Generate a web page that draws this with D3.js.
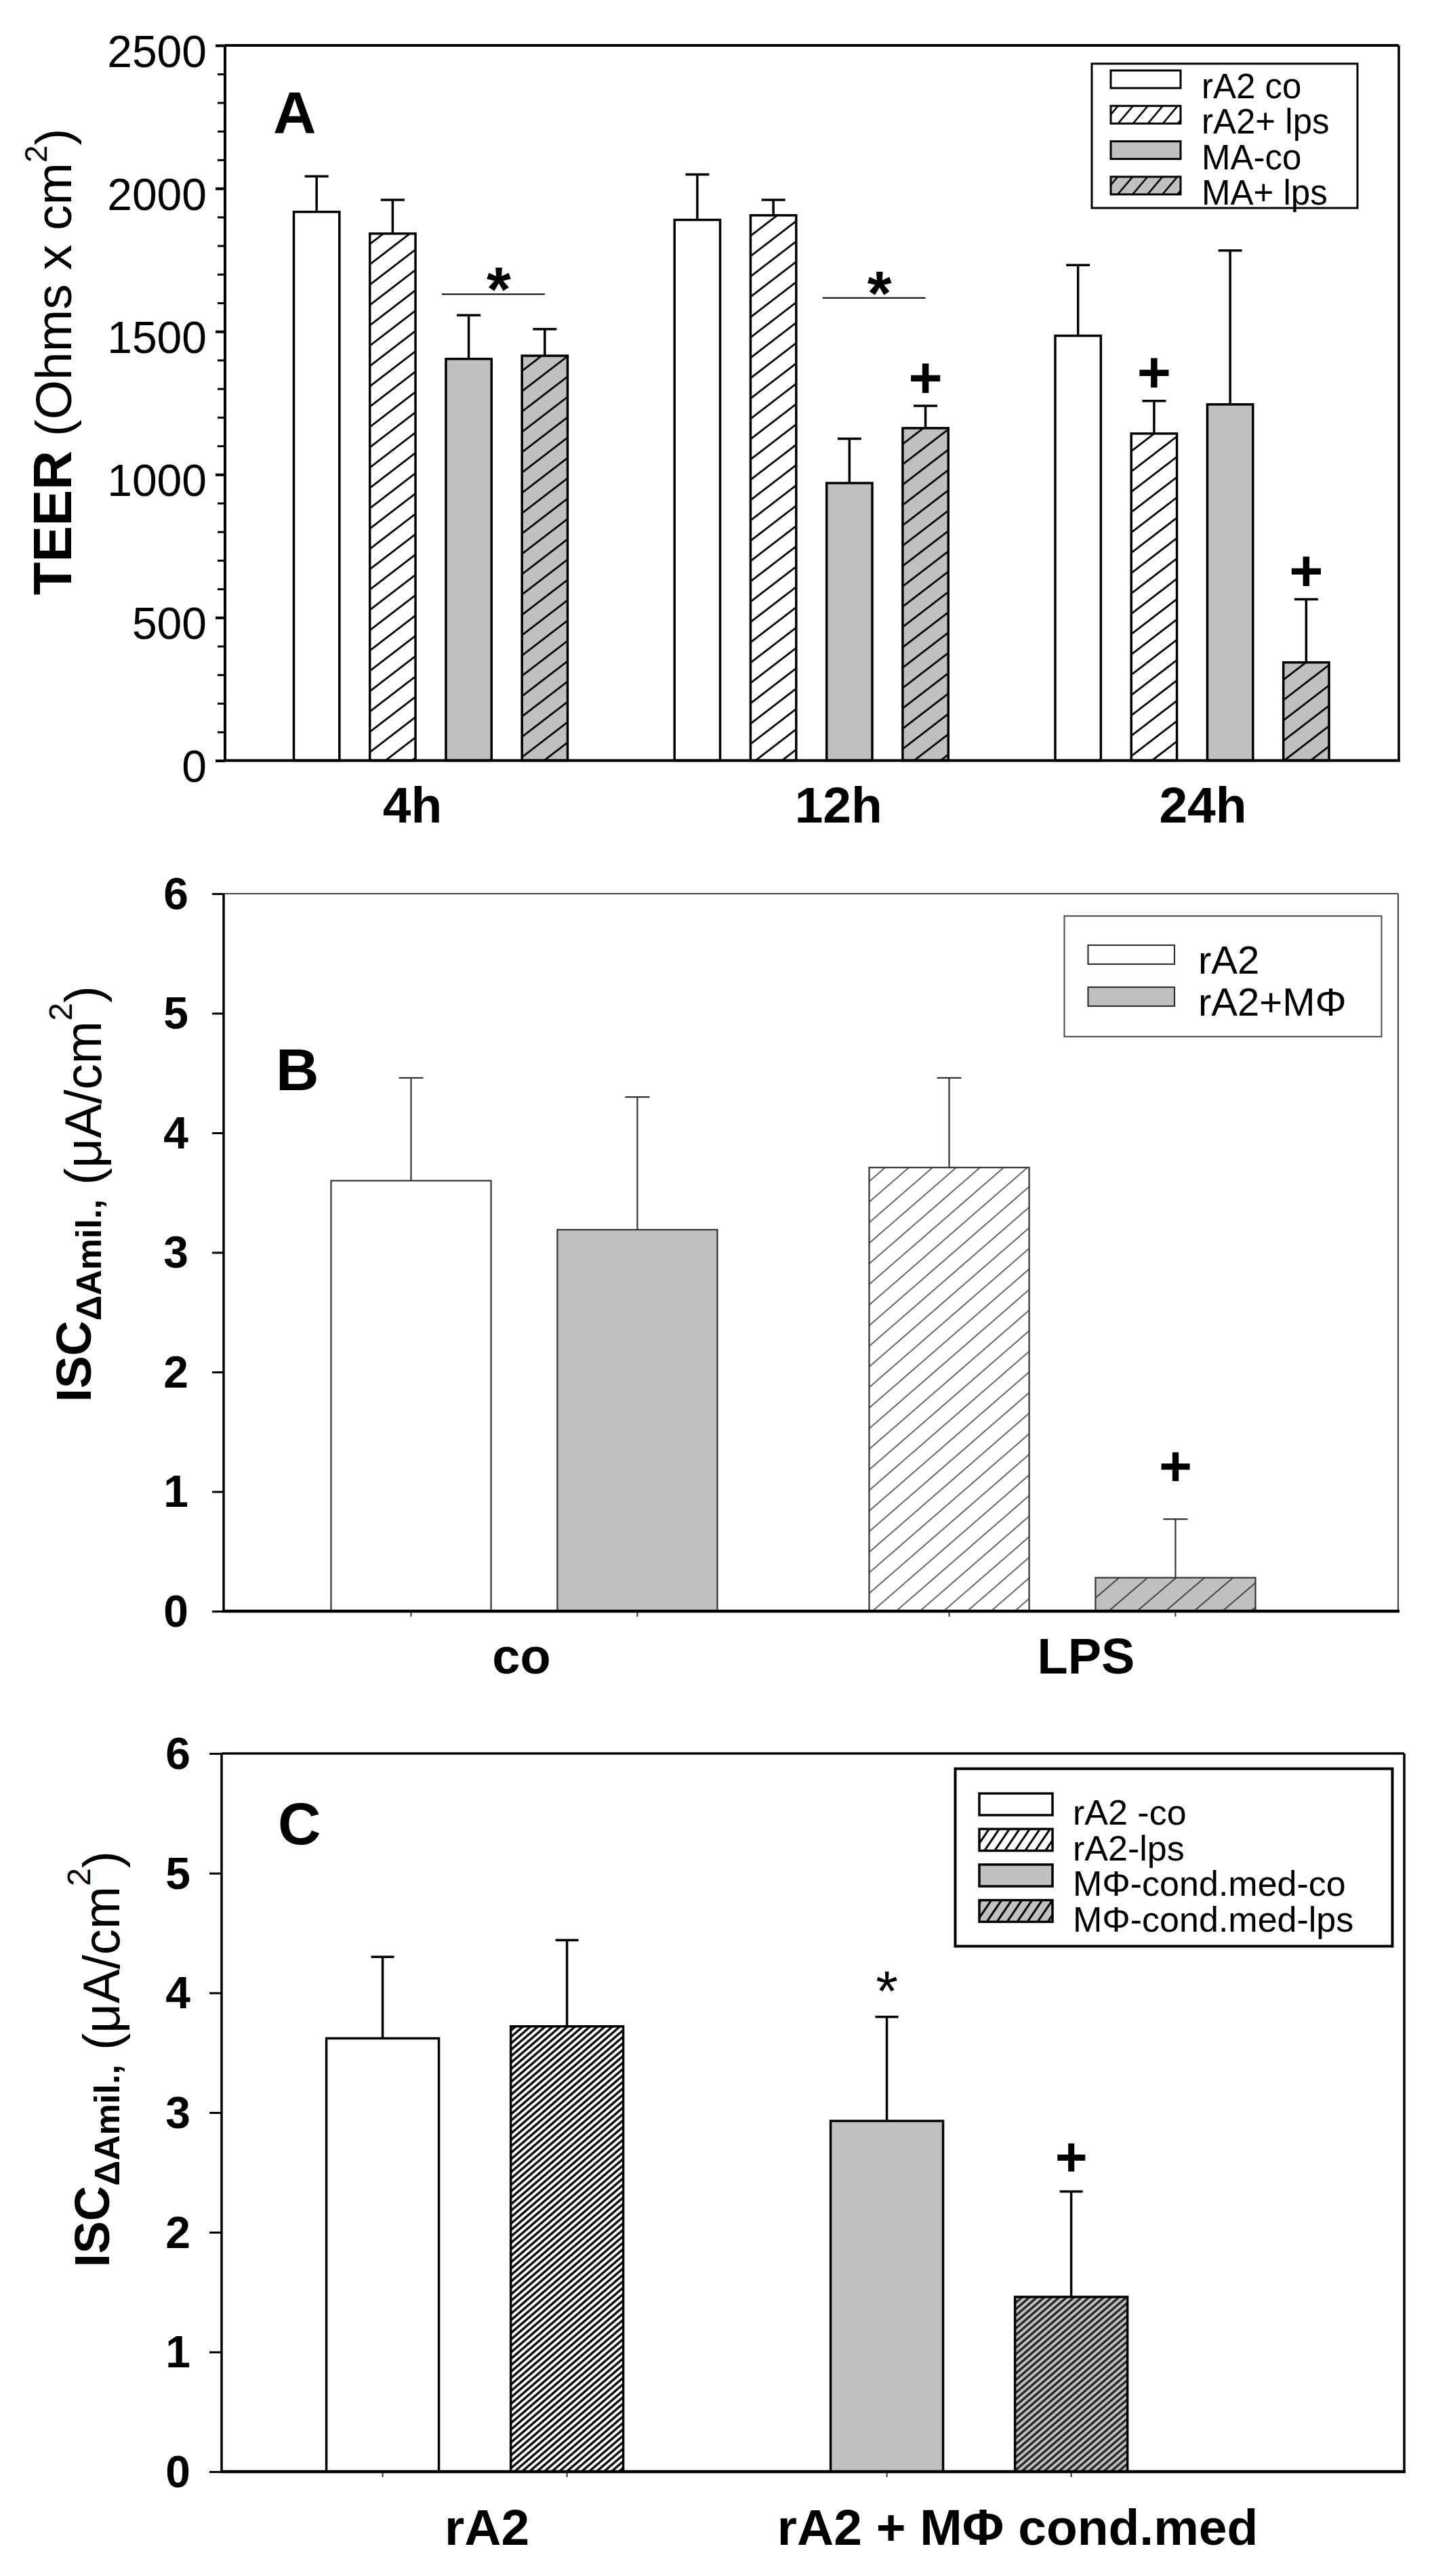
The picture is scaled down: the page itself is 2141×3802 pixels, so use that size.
<!DOCTYPE html>
<html>
<head>
<meta charset="utf-8">
<script src="https://cdn.jsdelivr.net/npm/d3@7"></script>
<style>
  body { margin: 0; background: #fff; }
  text { font-family: "Liberation Sans", Arial, sans-serif; fill: #000; }
</style>
</head>
<body>
<script>
// ---- panel A: TEER
const groupsA = ['4h', '12h', '24h']
const seriesA = ['rA2 co', 'rA2+ lps', 'MA-co', 'MA+ lps']
const teerMean = [
  [1918, 1842, 1404, 1415],
  [1890, 1906, 970, 1162],
  [1485, 1143, 1245, 343]
]
const teerSD = [
  [124, 118, 153, 93],
  [159, 54, 155, 78],
  [247, 114, 538, 221]
]
const teerTicks = [0, 500, 1000, 1500, 2000, 2500]
const teerStars = [{group: '4h', level: 1630}, {group: '12h', level: 1617}]
const teerPlus = [['12h', 'MA+ lps'], ['24h', 'rA2+ lps'], ['24h', 'MA+ lps']]

// ---- panel B: ISC, co vs LPS
const groupsB = ['co', 'LPS']
const seriesB = ['rA2', 'rA2+MΦ']
const iscMeanB = [[3.60, 3.19], [3.71, 0.28]]
const iscSDB = [[0.86, 1.11], [0.75, 0.49]]
const iscTicks = [0, 1, 2, 3, 4, 5, 6]
const plusB = [['LPS', 'rA2+MΦ']]

// ---- panel C: ISC with conditioned medium
const groupsC = ['rA2', 'rA2 + MΦ cond.med']
const seriesC = ['rA2 -co', 'rA2-lps', 'MΦ-cond.med-co', 'MΦ-cond.med-lps']
const groupOfC = ['rA2', 'rA2', 'rA2 + MΦ cond.med', 'rA2 + MΦ cond.med']
const iscMeanC = [3.62, 3.72, 2.93, 1.46]
const iscSDC = [0.68, 0.72, 0.87, 0.88]
const starC = ['MΦ-cond.med-co']
const plusC = ['MΦ-cond.med-lps']

const svg = d3.select('body').append('svg')
  .attr('width', 2141)
  .attr('height', 3802)

const defs = svg.append('defs')

// diagonal "/" hatch
function hatch(id, w, h, bg, color, sw) {
  const p = defs.append('pattern')
    .attr('id', id)
    .attr('patternUnits', 'userSpaceOnUse')
    .attr('width', w)
    .attr('height', h)
  p.append('rect').attr('width', w).attr('height', h).attr('fill', bg)
  p.append('path')
    .attr('d', [-w, 0, w].map(dx => `M${dx - w * 0.25},${h * 1.25}L${dx + w * 1.25},${-h * 0.25}`).join(''))
    .attr('stroke', color)
    .attr('stroke-width', sw)
    .attr('fill', 'none')
}
const GRAY = '#c0c0c0'
hatch('hA', 39, 30, '#fff', '#000', 2.8)
hatch('hAg', 39, 30, GRAY, '#000', 2.8)
hatch('hAleg', 22, 26, '#fff', '#000', 2.6)
hatch('hAgleg', 22, 26, GRAY, '#000', 2.6)
hatch('hB', 35, 30.4, '#fff', '#555', 1.7)
hatch('hBg', 42, 36, GRAY, '#444', 2)
hatch('hC', 11, 9.5, '#fff', '#000', 3.4)
hatch('hCg', 11, 9.5, GRAY, '#222', 3.4)
hatch('hCleg', 15, 22, '#fff', '#000', 3)
hatch('hCgleg', 15, 22, GRAY, '#000', 3)

// ---------- helpers
function frame(x0, x1, y0, y1, side) {
  const g = svg.append('g').attr('fill', 'none')
  const line = (a, b, c, d, s) => g.append('line')
    .attr('x1', a).attr('y1', b).attr('x2', c).attr('y2', d)
    .attr('stroke', s.c).attr('stroke-width', s.w)
  line(x0, y0, x1, y0, side.top)
  line(x1, y0, x1, y1, side.right)
  line(x0, y0, x0, y1, side.left)
  line(x0 - 2, y1, x1 + 2, y1, side.bottom)
}

function yAxis(x, y, ticks, opt) {
  if (opt.minor) {
    svg.append('g')
      .attr('transform', `translate(${x},0)`)
      .call(d3.axisLeft(y).tickValues(opt.minor).tickSize(opt.minorSize).tickFormat(''))
      .call(g => g.select('.domain').remove())
      .call(g => g.selectAll('.tick line').attr('stroke', '#000').attr('stroke-width', 3))
  }
  svg.append('g')
    .attr('transform', `translate(${x},0)`)
    .call(d3.axisLeft(y).tickValues(ticks).tickSize(opt.size).tickPadding(opt.pad).tickFormat(d3.format('d')))
    .call(g => g.select('.domain').remove())
    .call(g => g.selectAll('.tick line').attr('stroke', '#000').attr('stroke-width', opt.tickWidth))
    .call(g => g.selectAll('.tick text')
      .attr('font-size', 66)
      .attr('font-family', '"Liberation Sans", Arial, sans-serif')
      .attr('font-weight', opt.bold ? 'bold' : 'normal')
      .attr('dy', opt.dy))
}

function yTitle(x, y, parts) {
  const t = svg.append('text')
    .attr('transform', `translate(${x},${y}) rotate(-90)`)
    .attr('text-anchor', 'middle')
  parts.forEach(p => {
    t.append('tspan')
      .attr('font-size', p.size)
      .attr('font-weight', p.bold ? 'bold' : 'normal')
      .attr('dy', p.dy || 0)
      .text(p.t)
  })
}

function label(x, y, txt, size, weight, anchor) {
  svg.append('text')
    .attr('x', x).attr('y', y)
    .attr('font-size', size)
    .attr('font-weight', weight || 'normal')
    .attr('text-anchor', anchor || 'start')
    .text(txt)
}

function bars(data, opt) {
  const g = svg.append('g')
  g.selectAll('line.err')
    .data(data)
    .join('line')
    .attr('class', 'err')
    .attr('x1', d => d.x + d.w / 2)
    .attr('x2', d => d.x + d.w / 2)
    .attr('y1', d => opt.y(d.m))
    .attr('y2', d => opt.y(d.m + d.sd))
    .attr('stroke', opt.stroke).attr('stroke-width', opt.errWidth)
  g.selectAll('line.cap')
    .data(data)
    .join('line')
    .attr('class', 'cap')
    .attr('x1', d => d.x + d.w / 2 - opt.cap / 2)
    .attr('x2', d => d.x + d.w / 2 + opt.cap / 2)
    .attr('y1', d => opt.y(d.m + d.sd))
    .attr('y2', d => opt.y(d.m + d.sd))
    .attr('stroke', opt.stroke).attr('stroke-width', opt.errWidth)
  g.selectAll('rect')
    .data(data)
    .join('rect')
    .attr('x', d => d.x)
    .attr('width', d => d.w)
    .attr('y', d => opt.y(d.m))
    .attr('height', d => opt.y(0) - opt.y(d.m))
    .attr('fill', d => d.fill)
    .attr('stroke', opt.stroke)
    .attr('stroke-width', opt.barWidth)
}

function legend(box, items, opt) {
  svg.append('rect')
    .attr('x', box.x).attr('y', box.y).attr('width', box.w).attr('height', box.h)
    .attr('fill', '#fff').attr('stroke', opt.boxStroke).attr('stroke-width', opt.boxWidth)
  items.forEach((it, i) => {
    const top = opt.top + i * opt.step
    svg.append('rect')
      .attr('x', opt.sx).attr('y', top).attr('width', opt.sw).attr('height', opt.sh)
      .attr('fill', it.fill).attr('stroke', opt.swStroke).attr('stroke-width', opt.swWidth)
    label(opt.tx, top + opt.base, it.name, opt.size)
  })
}

// glyph-centred markers
function mark(sym, cx, cy, size, weight) {
  const k = sym === '+' ? 0.355 : 0.565
  label(cx, cy + k * size, sym, size, weight, 'middle')
}

// ================= PANEL A =================
const yA = d3.scaleLinear().domain([0, 2500]).range([1122.5, 67])
const gxA = d3.scalePoint().domain(groupsA).range([635.5, 1759])
const inA = d3.scaleBand().domain(seriesA).range([-202, 202]).paddingInner(0.4)
const fillA = ['#fff', 'url(#hA)', GRAY, 'url(#hAg)']
const fillAleg = ['#fff', 'url(#hAleg)', GRAY, 'url(#hAgleg)']

const dataA = groupsA.flatMap((g, gi) => seriesA.map((s, si) => ({
  g, s,
  x: gxA(g) + inA(s),
  w: inA.bandwidth(),
  m: teerMean[gi][si],
  sd: teerSD[gi][si],
  fill: fillA[si]
})))

yAxis(332, yA, teerTicks, {
  size: 14, pad: 13, tickWidth: 4, bold: false, dy: '0.47em',
  minor: d3.range(0, 2501, 100), minorSize: 11
})
bars(dataA, {y: yA, stroke: '#000', errWidth: 3.5, barWidth: 3.5, cap: 35})
frame(332, 2064, 67, 1122.5, {
  top: {c: '#000', w: 4}, right: {c: '#000', w: 3.5},
  left: {c: '#000', w: 4}, bottom: {c: '#000', w: 4}
})

// significance lines with star
teerStars.forEach(st => {
  const a = dataA.find(d => d.g === st.group && d.s === 'MA-co')
  const b = dataA.find(d => d.g === st.group && d.s === 'MA+ lps')
  const x1 = a.x - 6, x2 = b.x + b.w / 2
  svg.append('line')
    .attr('x1', x1).attr('x2', x2)
    .attr('y1', yA(st.level)).attr('y2', yA(st.level))
    .attr('stroke', '#000').attr('stroke-width', 2)
  mark('*', (x1 + x2) / 2 + 8, yA(st.level) - 27, 92, 'bold')
})
teerPlus.forEach(([g, s]) => {
  const d = dataA.find(e => e.g === g && e.s === s)
  mark('+', d.x + d.w / 2, yA(d.m + d.sd) - 43, 86, 'bold')
})

const nudgeA = [-27, 40, 16]
groupsA.forEach((g, i) => label(gxA(g) + nudgeA[i], 1214, g, 75, 'bold', 'middle'))
label(403, 196, 'A', 88, 'bold')
yTitle(105, 534, [
  {t: 'TEER', size: 80, bold: true},
  {t: ' (Ohms x cm', size: 75},
  {t: '2', size: 46, dy: -36},
  {t: ')', size: 75, dy: 36}
])
legend({x: 1611, y: 94, w: 392, h: 213},
  seriesA.map((s, i) => ({name: s, fill: fillAleg[i]})),
  {boxStroke: '#000', boxWidth: 3, sx: 1639, sw: 103, sh: 26, top: 104, step: 52.3,
   swStroke: '#000', swWidth: 3, tx: 1773, base: 41, size: 51})

// ================= PANEL B =================
const yB = d3.scaleLinear().domain([0, 6]).range([2378, 1319])
const gxB = d3.scalePoint().domain(groupsB).range([773.5, 1567.5])
const inB = d3.scaleBand().domain(seriesB).range([-285, 285]).paddingInner(0.293)
const fillB = (gi, si) => gi === 0 ? ['#fff', GRAY][si] : ['url(#hB)', 'url(#hBg)'][si]

const dataB = groupsB.flatMap((g, gi) => seriesB.map((s, si) => ({
  g, s,
  x: gxB(g) + inB(s),
  w: inB.bandwidth(),
  m: iscMeanB[gi][si],
  sd: iscSDB[gi][si],
  fill: fillB(gi, si)
})))

yAxis(330, yB, iscTicks, {size: 17, pad: 35, tickWidth: 3, bold: true, dy: '0.34em'})
bars(dataB, {y: yB, stroke: '#333', errWidth: 2.2, barWidth: 2.2, cap: 36})
svg.append('g').selectAll('line')
  .data(dataB)
  .join('line')
  .attr('x1', d => d.x + d.w / 2).attr('x2', d => d.x + d.w / 2)
  .attr('y1', yB(0)).attr('y2', yB(0) + 8)
  .attr('stroke', '#333').attr('stroke-width', 2)
frame(330, 2063, 1319, 2378, {
  top: {c: '#444', w: 2.2}, right: {c: '#444', w: 2.2},
  left: {c: '#000', w: 3.5}, bottom: {c: '#000', w: 4.5}
})
plusB.forEach(([g, s]) => {
  const d = dataB.find(e => e.g === g && e.s === s)
  mark('+', d.x + d.w / 2, yB(d.m + d.sd) - 79, 84, 'bold')
})
const nudgeB = [-4, 35]
groupsB.forEach((g, i) => label(gxB(g) + nudgeB[i], 2470, g, 74, 'bold', 'middle'))
label(407, 1609, 'B', 88, 'bold')
yTitle(134, 1762, [
  {t: 'ISC', size: 72, bold: true},
  {t: 'ΔAmil.,', size: 52, bold: true, dy: 15},
  {t: ' (μA/cm', size: 76},
  {t: '2', size: 48, dy: -43},
  {t: ')', size: 76, dy: 43}
])
legend({x: 1570.5, y: 1352, w: 468, h: 178},
  [{name: seriesB[0], fill: '#fff'}, {name: seriesB[1], fill: GRAY}],
  {boxStroke: '#555', boxWidth: 2.2, sx: 1605.5, sw: 127.5, sh: 28, top: 1395, step: 62,
   swStroke: '#333', swWidth: 2.2, tx: 1768, base: 42, size: 58})

// ================= PANEL C =================
const yC = d3.scaleLinear().domain([0, 6]).range([3648, 2588])
const gxC = d3.scalePoint().domain(groupsC).range([700.6, 1444.6])
const inC = d3.scaleBand().domain([0, 1]).range([-219, 219]).paddingInner(0.39)
const fillC = ['#fff', 'url(#hC)', GRAY, 'url(#hCg)']
const fillCleg = ['#fff', 'url(#hCleg)', GRAY, 'url(#hCgleg)']

const dataC = seriesC.map((s, i) => {
  const slot = groupOfC.slice(0, i).filter(g => g === groupOfC[i]).length
  return {
    g: groupOfC[i], s,
    x: gxC(groupOfC[i]) + inC(slot),
    w: inC.bandwidth(),
    m: iscMeanC[i],
    sd: iscSDC[i],
    fill: fillC[i]
  }
})

yAxis(327, yC, iscTicks, {size: 18, pad: 28, tickWidth: 3, bold: true, dy: '0.34em'})
bars(dataC, {y: yC, stroke: '#000', errWidth: 3.5, barWidth: 3.5, cap: 34})
svg.append('g').selectAll('line')
  .data(dataC)
  .join('line')
  .attr('x1', d => d.x + d.w / 2).attr('x2', d => d.x + d.w / 2)
  .attr('y1', yC(0)).attr('y2', yC(0) + 8)
  .attr('stroke', '#333').attr('stroke-width', 2)
frame(327, 2072, 2588, 3648, {
  top: {c: '#000', w: 3.5}, right: {c: '#000', w: 3.5},
  left: {c: '#000', w: 3.5}, bottom: {c: '#000', w: 4.5}
})
starC.forEach(s => {
  const d = dataC.find(e => e.s === s)
  mark('*', d.x + d.w / 2, yC(d.m + d.sd) - 56, 84, 'normal')
})
plusC.forEach(s => {
  const d = dataC.find(e => e.s === s)
  mark('+', d.x + d.w / 2, yC(d.m + d.sd) - 53, 82, 'bold')
})
const nudgeC = [18, 57]
groupsC.forEach((g, i) => label(gxC(g) + nudgeC[i], 3756, g, 75, 'bold', 'middle'))
label(410, 2722, 'C', 88, 'bold')
yTitle(161, 3039, [
  {t: 'ISC', size: 72, bold: true},
  {t: 'ΔAmil.,', size: 52, bold: true, dy: 15},
  {t: ' (μA/cm', size: 76},
  {t: '2', size: 48, dy: -43},
  {t: ')', size: 76, dy: 43}
])
legend({x: 1409.5, y: 2610.5, w: 645, h: 262},
  seriesC.map((s, i) => ({name: s, fill: fillCleg[i]})),
  {boxStroke: '#000', boxWidth: 4, sx: 1445, sw: 108, sh: 32, top: 2647, step: 52.5,
   swStroke: '#000', swWidth: 3.5, tx: 1583, base: 46, size: 52})
</script>
</body>
</html>
